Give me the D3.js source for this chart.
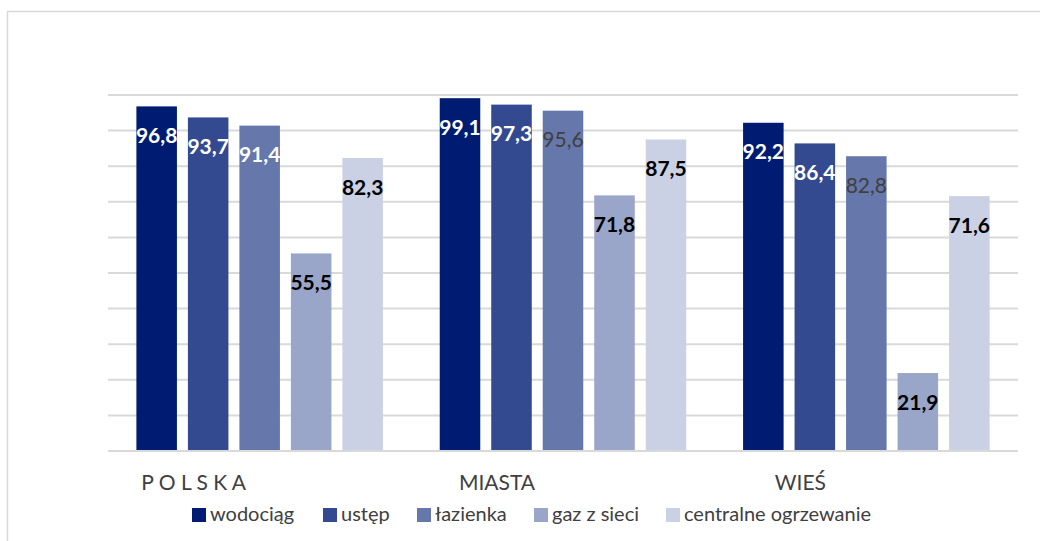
<!DOCTYPE html>
<html>
<head>
<meta charset="utf-8">
<script src="https://cdn.jsdelivr.net/npm/d3@7"></script>
<style>
  body { margin: 0; background: #fff; }
  text { font-family: Lato, "Open Sans", sans-serif; }
</style>
</head>
<body>
<svg id="chart" width="1040" height="541"></svg>
<script>
// data
var categories = ["P O L S K A", "MIASTA", "WIEŚ"];
var series = ["wodociąg", "ustęp", "łazienka", "gaz z sieci", "centralne ogrzewanie"];
var wodociag = [96.8, 99.1, 92.2];
var ustep = [93.7, 97.3, 86.4];
var lazienka = [91.4, 95.6, 82.8];
var gaz = [55.5, 71.8, 21.9];
var centralne = [82.3, 87.5, 71.6];
var values = [wodociag, ustep, lazienka, gaz, centralne];
var yTicks = [0, 10, 20, 30, 40, 50, 60, 70, 80, 90, 100];

var colors = ["#001c72", "#334a91", "#6677ab", "#99a5c9", "#cbd1e4"];
// label look per series / category: [fill, weight]
var labelLook = [
    [["#fff", "bold"], ["#fff", "bold"], ["#fff", "bold"]],
    [["#fff", "bold"], ["#fff", "bold"], ["#fff", "bold"]],
    [["#fff", "bold"], ["#404040", "normal"], ["#404040", "normal"]],
    [["#000", "bold"], ["#000", "bold"], ["#000", "bold"]],
    [["#000", "bold"], ["#000", "bold"], ["#000", "bold"]]
];

var svg = d3.select("#chart");

// outer frame
svg.append("rect")
    .attr("x", 7.5).attr("y", 11.5)
    .attr("width", 1100).attr("height", 600)
    .attr("fill", "none")
    .attr("stroke", "#d9d9d9")
    .attr("stroke-width", 1.5);

var plotL = 108, plotR = 1018, plotT = 95, plotB = 451;

var x0 = d3.scaleBand()
    .domain(d3.range(categories.length))
    .range([plotL, plotR]);

var pad = 28.4;
var x1 = d3.scaleBand()
    .domain(d3.range(series.length))
    .range([pad, x0.bandwidth() - pad])
    .paddingInner(0.213);

var y = d3.scaleLinear()
    .domain([0, 100])
    .range([plotB, plotT]);

// gridlines
svg.append("g").selectAll("line")
    .data(yTicks)
    .join("line")
        .attr("x1", plotL).attr("x2", plotR)
        .attr("y1", function (d) { return y(d); })
        .attr("y2", function (d) { return y(d); })
        .attr("stroke", "#d9d9d9")
        .attr("stroke-width", 2);

// bars
var groups = svg.append("g").selectAll("g")
    .data(categories)
    .join("g")
        .attr("transform", function (d, i) { return "translate(" + x0(i) + ",0)"; });

var cells = function (d, ci) {
    return series.map(function (s, si) { return { si: si, ci: ci, v: values[si][ci] }; });
};

groups.selectAll("rect")
    .data(cells)
    .join("rect")
        .attr("x", function (d) { return x1(d.si); })
        .attr("y", function (d) { return y(d.v); })
        .attr("width", x1.bandwidth())
        .attr("height", function (d) { return y(0) - y(d.v); })
        .attr("fill", function (d) { return colors[d.si]; });

// value labels
groups.selectAll("text")
    .data(cells)
    .join("text")
        .attr("x", function (d) { return x1(d.si) + x1.bandwidth() / 2; })
        .attr("y", function (d) { return y(d.v) + 29; })
        .attr("dy", "0.36em")
        .attr("text-anchor", "middle")
        .attr("font-size", 21)
        .attr("font-weight", function (d) { return labelLook[d.si][d.ci][1]; })
        .attr("fill", function (d) { return labelLook[d.si][d.ci][0]; })
        .text(function (d) { return d3.format(".1f")(d.v).replace(".", ","); });

// baseline
svg.append("line")
    .attr("x1", plotL).attr("x2", plotR)
    .attr("y1", y(0)).attr("y2", y(0))
    .attr("stroke", "#d9d9d9")
    .attr("stroke-width", 2);

// category labels
svg.append("g").selectAll("text")
    .data(categories)
    .join("text")
        .attr("x", function (d, i) { return x0(i) + x0.bandwidth() / 2 - 66; })
        .attr("y", 490)
        .attr("text-anchor", "middle")
        .attr("font-size", 21)
        .attr("fill", "#404040")
        .text(function (d) { return d; });

// legend
var legendX = [192, 323, 417, 534, 666];
var legend = svg.append("g").selectAll("g")
    .data(series)
    .join("g")
        .attr("transform", function (d, i) { return "translate(" + legendX[i] + ",508)"; });
legend.append("rect")
    .attr("width", 14).attr("height", 14)
    .attr("fill", function (d, i) { return colors[i]; });
legend.append("text")
    .attr("x", 18).attr("y", 13)
    .attr("font-size", 20)
    .attr("fill", "#404040")
    .text(function (d) { return d; });
</script>
</body>
</html>
